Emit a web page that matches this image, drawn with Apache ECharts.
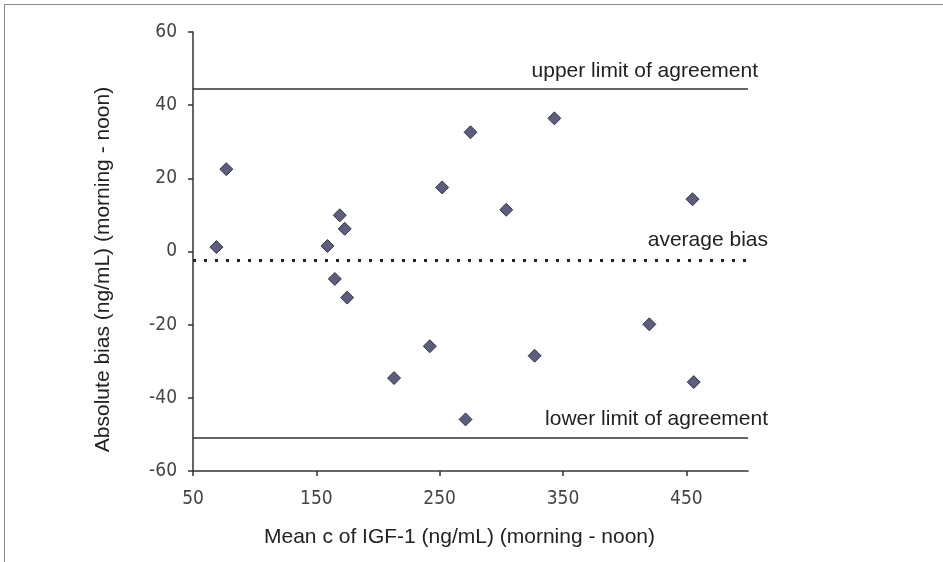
<!DOCTYPE html>
<html>
<head>
<meta charset="utf-8">
<script src="https://cdn.jsdelivr.net/npm/echarts@6/dist/echarts.min.js"></script>
<style>
  html, body { margin: 0; padding: 0; background: #fff; }
  #frame {
    position: absolute; left: 4px; top: 4px; right: 0; bottom: 0;
    border-top: 1px solid #8a8a8a; border-left: 1px solid #8a8a8a;
  }
  #chart { position: absolute; left: 0; top: 0; width: 943px; height: 562px; }
</style>
</head>
<body>
<div id="frame"></div>
<div id="chart"></div>
<script>
// mean of morning and noon IGF-1 (ng/mL)
const meanValues = [69, 77, 159, 169, 173, 252, 275, 165, 175, 213, 242, 271, 343, 304, 455, 327, 420, 456];
// morning - noon difference (ng/mL)
const biasValues = [1.2, 22.5, 1.5, 9.9, 6.2, 17.5, 32.6, -7.5, -12.6, -34.6, -25.9, -45.9, 36.4, 11.4, 14.3, -28.5, -19.9, -35.7];

const upperLimit = 44.5;
const averageBias = -2.5;
const lowerLimit = -51;

const xTicks = [50, 150, 250, 350, 450];
const yTicks = [-60, -40, -20, 0, 20, 40, 60];

const refLines = [
  { name: 'upper limit of agreement', value: upperLimit, dotted: false },
  { name: 'average bias', value: averageBias, dotted: true },
  { name: 'lower limit of agreement', value: lowerLimit, dotted: false }
];
// label placement relative to the right end of each line
const labelShift = [[10, -18], [20, -20], [20, -19]];

const tickFont = "'DejaVu Sans Condensed', 'Liberation Sans Narrow', sans-serif";
const textFont = "'Liberation Sans', Arial, sans-serif";

const chart = echarts.init(document.getElementById('chart'));

const option = {
  animation: false,
  grid: { left: 193, top: 32, right: 195, bottom: 91 },
  xAxis: {
    type: 'value',
    min: 50,
    max: 500,
    interval: 100,
    name: 'Mean c of IGF-1 (ng/mL) (morning - noon)',
    nameLocation: 'middle',
    nameGap: 56,
    nameTextStyle: { fontFamily: textFont, fontSize: 21, color: '#222', padding: [0, 22, 0, 0] },
    axisLine: { show: true, onZero: false, lineStyle: { color: '#333', width: 1.5 } },
    axisTick: { show: true, length: 5, customValues: xTicks, lineStyle: { color: '#333', width: 1.5 } },
    axisLabel: { customValues: xTicks, margin: 19, fontFamily: tickFont, fontSize: 19, color: '#444' },
    splitLine: { show: false }
  },
  yAxis: {
    type: 'value',
    min: -60,
    max: 60,
    interval: 20,
    name: 'Absolute bias (ng/mL) (morning - noon)',
    nameLocation: 'middle',
    nameGap: 79,
    nameTextStyle: { fontFamily: textFont, fontSize: 21, color: '#222', padding: [0, 36, 0, 0] },
    axisLine: { show: true, onZero: false, lineStyle: { color: '#333', width: 1.5 } },
    axisTick: { show: true, length: 5, customValues: yTicks, lineStyle: { color: '#333', width: 1.5 } },
    axisLabel: { customValues: yTicks, margin: 16, fontFamily: tickFont, fontSize: 19, color: '#444' },
    splitLine: { show: false }
  },
  series: [
    {
      type: 'scatter',
      data: meanValues.map((m, i) => [m, biasValues[i]]),
      symbol: 'diamond',
      symbolSize: [13, 13],
      itemStyle: { color: '#34345f', borderColor: '#1a1a2e', borderWidth: 1 },
      markLine: {
        silent: true,
        symbol: 'none',
        label: { show: false },
        data: refLines.map(r => ({
          yAxis: r.value,
          lineStyle: r.dotted
            ? { color: '#222', width: 3, type: [3, 8] }
            : { color: '#333', width: 1.5, type: 'solid' }
        }))
      }
    }
  ]
};

chart.setOption(option);

// labels above the reference lines, placed through the chart's own scales
const rightEnd = chart.convertToPixel({ gridIndex: 0 }, [500, 0])[0];
chart.setOption({
  graphic: refLines.map((r, i) => ({
    type: 'text',
    x: rightEnd + labelShift[i][0],
    y: chart.convertToPixel({ gridIndex: 0 }, [0, r.value])[1] + labelShift[i][1],
    style: {
      text: r.name,
      align: 'right',
      verticalAlign: 'middle',
      fontFamily: textFont,
      fontSize: 21,
      fill: '#222'
    }
  }))
});
</script>
</body>
</html>
